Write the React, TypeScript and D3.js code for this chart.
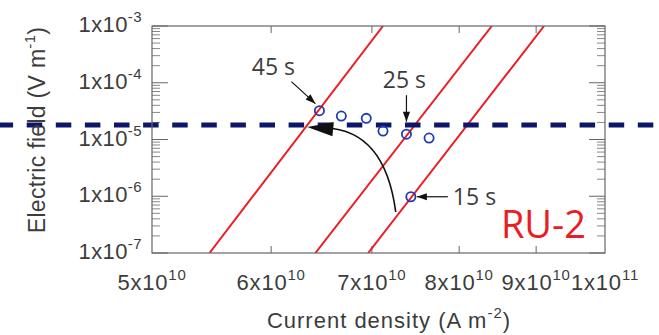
import * as d3 from "d3";

const W = 659;
const H = 335;
const PLOT = { left: 152, right: 605, top: 26, bottom: 253 };

// axis ticks
const xTicks = [5e10, 6e10, 7e10, 8e10, 9e10, 1e11];
const xTickMant = ["5", "6", "7", "8", "9", "1"];
const xTickExp = ["10", "10", "10", "10", "10", "11"];
const yTicks = [1e-7, 1e-6, 1e-5, 1e-4, 1e-3];
const yTickExp = ["-7", "-6", "-5", "-4", "-3"];

// measured points (current density, electric field)
const pointJ = [6.46e10, 6.68e10, 6.94e10, 7.12e10, 7.38e10, 7.64e10, 7.43e10];
const pointE = [3.22e-5, 2.59e-5, 2.36e-5, 1.41e-5, 1.24e-5, 1.06e-5, 9.8e-7];

// power-law lines, J at E = 1e-7 and J at E = 1e-3
const lineELow = 1e-7;
const lineEHigh = 1e-3;
const lineJLow = [5.46e10, 6.42e10, 6.96e10];
const lineJHigh = [7.12e10, 8.41e10, 9.11e10];

// criterion
const E_CRIT = 1.8e-5;

// time labels and which point they mark
const timeLabels = ["45 s", "25 s", "15 s"];
const timePoint = [0, 4, 6];

// curved arrow: start, control, end
const arcJ = [7.26e10, 7.14e10, 6.34e10];
const arcE = [5.28e-7, 1.47e-5, 1.66e-5];

const COLOR_FRAME = "#666";
const COLOR_TEXT = "#3c3c3c";
const COLOR_RED = "#ec1c24";
const COLOR_BLUE = "#1f3db0";
const COLOR_NAVY = "#0c176a";
const AXIS_FONT = "'Liberation Sans', Arial, sans-serif";
const NOTE_FONT = "'Open Sans', 'Noto Sans', sans-serif";

function head(tx: number, ty: number, fx: number, fy: number, len: number, half: number) {
  const a = Math.atan2(ty - fy, tx - fx);
  const bx = tx - len * Math.cos(a);
  const by = ty - len * Math.sin(a);
  const px = -Math.sin(a) * half;
  const py = Math.cos(a) * half;
  return `${tx},${ty} ${bx + px},${by + py} ${bx - px},${by - py}`;
}

export default function App() {
  const x = d3.scaleLog().domain([5e10, 1e11]).range([PLOT.left, PLOT.right]);
  const y = d3.scaleLog().domain([1e-7, 1e-3]).range([PLOT.bottom, PLOT.top]);

  const minorY: number[] = [];
  for (let k = -7; k < -3; k++) {
    for (let m = 2; m <= 9; m++) minorY.push(m * Math.pow(10, k));
  }

  const line = d3.line<[number, number]>().x((d) => x(d[0])).y((d) => y(d[1]));

  const ac = arcJ.map((j, i) => [x(j), y(arcE[i])]);
  const arcPath = `M${ac[0][0]},${ac[0][1]} Q${ac[1][0]},${ac[1][1]} ${ac[2][0] + 18},${ac[2][1] + 1}`;

  return (
    <svg
      width={W}
      height={H}
      style={{ position: "absolute", left: 0, top: 0, background: "#fff" }}
    >
      <defs>
        <clipPath id="plot">
          <rect x={PLOT.left} y={PLOT.top} width={PLOT.right - PLOT.left} height={PLOT.bottom - PLOT.top} />
        </clipPath>
      </defs>

      {/* y ticks, left and right */}
      {yTicks.map((t) => (
        <g key={"ym" + t} stroke={COLOR_FRAME} strokeWidth={1}>
          <line x1={PLOT.left} x2={PLOT.left + 16} y1={y(t)} y2={y(t)} />
          <line x1={PLOT.right} x2={PLOT.right - 16} y1={y(t)} y2={y(t)} />
        </g>
      ))}
      {minorY.map((t) => (
        <g key={"yn" + t} stroke="#888" strokeWidth={1}>
          <line x1={PLOT.left} x2={PLOT.left + 8} y1={y(t)} y2={y(t)} />
          <line x1={PLOT.right} x2={PLOT.right - 8} y1={y(t)} y2={y(t)} />
        </g>
      ))}
      {/* x ticks, top and bottom */}
      {xTicks.slice(1, -1).map((t) => (
        <g key={"xt" + t} stroke={COLOR_FRAME} strokeWidth={1}>
          <line x1={x(t)} x2={x(t)} y1={PLOT.bottom} y2={PLOT.bottom - 7} />
          <line x1={x(t)} x2={x(t)} y1={PLOT.top} y2={PLOT.top + 7} />
        </g>
      ))}

      {/* power-law lines */}
      <g clipPath="url(#plot)">
        {lineJLow.map((j, i) => (
          <path
            key={"l" + i}
            d={line([[j, lineELow], [lineJHigh[i], lineEHigh]]) ?? ""}
            stroke={COLOR_RED}
            strokeWidth={2}
            fill="none"
          />
        ))}
      </g>

      {/* criterion line */}
      <line
        x1={0}
        x2={W}
        y1={y(E_CRIT)}
        y2={y(E_CRIT)}
        stroke={COLOR_NAVY}
        strokeWidth={5}
        strokeDasharray="15.5,13.6"
        strokeDashoffset={2.4}
      />

      {/* frame */}
      <rect
        x={PLOT.left}
        y={PLOT.top}
        width={PLOT.right - PLOT.left}
        height={PLOT.bottom - PLOT.top}
        fill="none"
        stroke={COLOR_FRAME}
        strokeWidth={1.2}
      />

      {/* points */}
      {pointJ.map((j, i) => (
        <circle
          key={"p" + i}
          cx={x(j)}
          cy={y(pointE[i])}
          r={4.6}
          fill="none"
          stroke={COLOR_BLUE}
          strokeWidth={1.8}
        />
      ))}

      {/* curved arrow */}
      <path d={arcPath} stroke="#111" strokeWidth={1.6} fill="none" />
      <polygon
        points={head(ac[2][0], ac[2][1], ac[1][0], ac[1][1] + 4, 26, 7)}
        fill="#111"
      />

      {/* time annotations */}
      {timeLabels.map((lab, i) => {
        const px = x(pointJ[timePoint[i]]);
        const py = y(pointE[timePoint[i]]);
        let tx = 0, ty = 0, anchor = "middle";
        let a0 = [0, 0], a1 = [0, 0];
        if (i === 0) {
          tx = px - 46; ty = py - 36;
          a0 = [px - 28, py - 29]; a1 = [px - 4, py - 7];
        } else if (i === 1) {
          tx = px - 2; ty = py - 46;
          a0 = [px, py - 39]; a1 = [px, py - 12.5];
        } else {
          tx = px + 42; ty = py + 8.5; anchor = "start";
          a0 = [px + 37, py]; a1 = [px + 6, py];
        }
        return (
          <g key={"a" + i}>
            <line x1={a0[0]} y1={a0[1]} x2={a1[0]} y2={a1[1]} stroke="#111" strokeWidth={1.2} />
            <polygon points={head(a1[0], a1[1], a0[0], a0[1], 10, 3.6)} fill="#111" />
            <text
              x={tx}
              y={ty}
              textAnchor={anchor}
              fontFamily={NOTE_FONT}
              fontSize={23}
              fill={COLOR_TEXT}
            >
              {lab}
            </text>
          </g>
        );
      })}

      <text
        x={PLOT.right - 19}
        y={PLOT.bottom - 15}
        textAnchor="end"
        fontFamily={NOTE_FONT}
        fontSize={38}
        fill={COLOR_RED}
      >
        RU-2
      </text>

      {/* y tick labels */}
      {yTicks.map((t, i) => (
        <text
          key={"yl" + t}
          x={PLOT.left - 10}
          y={y(t) + 6}
          textAnchor="end"
          fontFamily={AXIS_FONT}
          fontSize={22}
          letterSpacing={0.4}
          fill={COLOR_TEXT}
        >
          1x10
          <tspan fontSize={15} dy={-10}>
            {yTickExp[i]}
          </tspan>
        </text>
      ))}

      {/* x tick labels */}
      {xTicks.map((t, i) => (
        <text
          key={"xl" + t}
          x={x(t)}
          y={PLOT.bottom + 37}
          textAnchor="middle"
          fontFamily={AXIS_FONT}
          fontSize={22}
          letterSpacing={0.8}
          fill={COLOR_TEXT}
        >
          {xTickMant[i]}x10
          <tspan fontSize={15} dy={-10}>
            {xTickExp[i]}
          </tspan>
        </text>
      ))}

      {/* axis titles */}
      <text
        x={389}
        y={328}
        textAnchor="middle"
        fontFamily={AXIS_FONT}
        fontSize={22}
        letterSpacing={1}
        fill={COLOR_TEXT}
      >
        Current density (A m
        <tspan fontSize={15} dy={-10}>-2</tspan>
        <tspan dy={10}>)</tspan>
      </text>
      <text
        transform="translate(45,130) rotate(-90)"
        textAnchor="middle"
        fontFamily={AXIS_FONT}
        fontSize={23}
        letterSpacing={0.3}
        fill={COLOR_TEXT}
      >
        Electric field (V m
        <tspan fontSize={15} dy={-10}>-1</tspan>
        <tspan dy={10}>)</tspan>
      </text>
    </svg>
  );
}
